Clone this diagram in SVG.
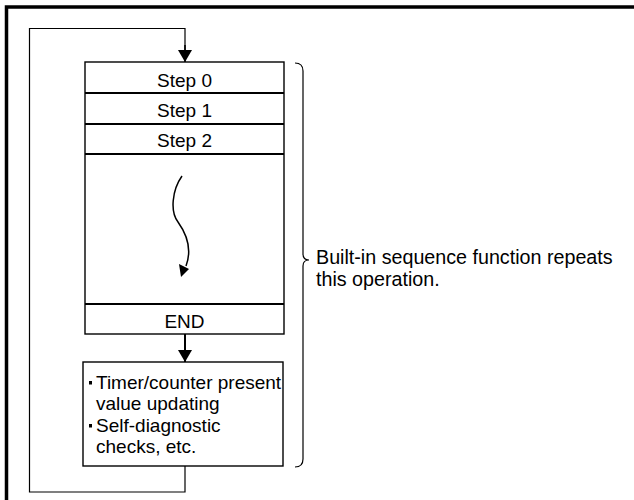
<svg xmlns="http://www.w3.org/2000/svg" width="634" height="500" viewBox="0 0 634 500">
<defs>
<style>
text{font-family:"Liberation Sans",Arial,sans-serif;font-size:19px;fill:#000}
.note{font-size:19.7px}
.box{fill:#fff;stroke:#000;stroke-width:1.4}
.sep{stroke:#000;stroke-width:2}
.ln{fill:none;stroke:#000;stroke-width:1.2}
.c{text-anchor:middle}
</style>
<marker id="ah" markerWidth="12" markerHeight="14" refX="12" refY="7" orient="auto" markerUnits="userSpaceOnUse" viewBox="0 0 12 14">
<path d="M0,0 L12,7 L0,14 Z" fill="#000"/>
</marker>
</defs>
<rect width="634" height="500" fill="#fff"/>
<path d="M6.5,500 V7 H634" fill="none" stroke="#000" stroke-width="3.5"/>
<g id="connectors">
<path class="ln" d="M185,50 V28.5 H29.5 V492 H185 V466"/>
<path d="M185,45 V62" stroke="#000" stroke-width="1.6" marker-end="url(#ah)"/>
<path d="M185,334 V362" stroke="#000" stroke-width="2" marker-end="url(#ah)"/>
</g>
<g id="program">
<rect class="box" x="85" y="62" width="199" height="272"/>
<line class="sep" x1="85" y1="93" x2="284" y2="93"/>
<line class="sep" x1="85" y1="124" x2="284" y2="124"/>
<line class="sep" x1="85" y1="154" x2="284" y2="154"/>
<line class="sep" x1="85" y1="304" x2="284" y2="304"/>
<text class="c" x="184.5" y="87">Step 0</text>
<text class="c" x="184.5" y="117">Step 1</text>
<text class="c" x="184.5" y="147">Step 2</text>
<text class="c" x="184.5" y="328">END</text>
<path d="M182,176 C172,190 170,212 178,222 C188,236 192,250 186,266" fill="none" stroke="#000" stroke-width="1.5"/>
<path d="M181,277 L179,264 L189,269 Z" fill="#000"/>
</g>
<g id="housekeeping">
<rect class="box" x="83" y="362" width="200" height="104"/>
<rect x="89" y="381" width="3" height="3.5" fill="#000"/>
<rect x="89" y="424" width="3" height="3.5" fill="#000"/>
<text x="96" y="389">Timer/counter present</text>
<text x="96" y="410">value updating</text>
<text x="96" y="432">Self-diagnostic</text>
<text x="96" y="453">checks, etc.</text>
</g>
<g id="note">
<path class="ln" d="M295,63 Q303,63 303,71 V254 Q303,260 309,260 Q303,260 303,266 V459 Q303,467 295,467"/>
<text class="note" x="316" y="264">Built-in sequence function repeats</text>
<text class="note" x="316" y="286">this operation.</text>
</g>
</svg>
